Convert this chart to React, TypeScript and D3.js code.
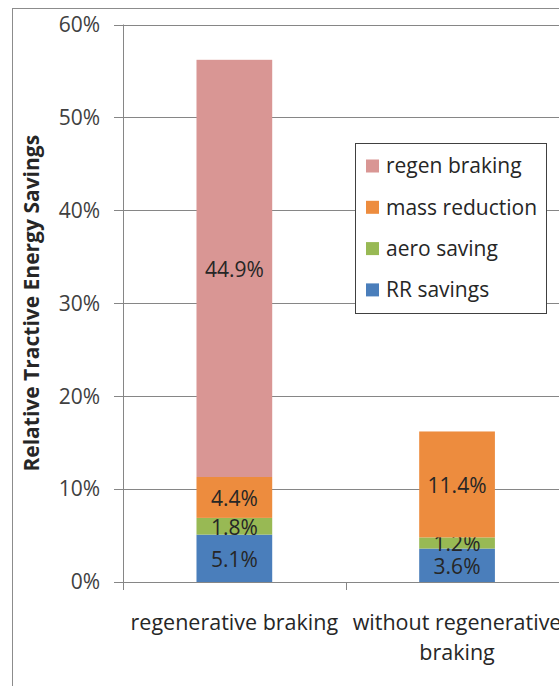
import React from "react";
import * as d3 from "d3";

const categories = ["regenerative braking", "without regenerative braking"];
const categoryLines = [["regenerative braking"], ["without regenerative", "braking"]];
const seriesNames = ["RR savings", "aero saving", "mass reduction", "regen braking"];
const rrSavings = [5.1, 3.6];
const aeroSaving = [1.8, 1.2];
const massReduction = [4.4, 11.4];
const regenBraking = [44.9, 0];
const seriesColors = ["#4A7EBB", "#98B954", "#ED8C3E", "#D99694"];
const yTicks = [0, 10, 20, 30, 40, 50, 60];

const W = 559;
const H = 686;
const FONT = "'Open Sans', sans-serif";

export default function App() {
  const y = d3.scaleLinear().domain([0, 60]).range([582, 24.5]);
  const x = d3.scaleBand<string>().domain(categories).range([123, 568.4]).padding(0);
  const barW = x.bandwidth() * 0.34;

  const rows = categories.map((c, i) => ({
    cat: c,
    "RR savings": rrSavings[i],
    "aero saving": aeroSaving[i],
    "mass reduction": massReduction[i],
    "regen braking": regenBraking[i],
  }));
  const stack = d3.stack<any>().keys(seriesNames);
  const layers = stack(rows);

  const legendOrder = [3, 2, 1, 0];

  return (
    <svg
      width={W}
      height={H}
      style={{ position: "absolute", left: 0, top: 0, background: "#fff" }}
      fontFamily={FONT}
    >
      <rect x={12.5} y={8.5} width={700} height={800} fill="#fff" stroke="#8c8c8c" strokeWidth={1} />
      {yTicks.map((t) => (
        <line key={t} x1={114} x2={W + 10} y1={Math.round(y(t)) + 0.5} y2={Math.round(y(t)) + 0.5} stroke="#868686" strokeWidth={1} />
      ))}
      {yTicks.map((t) => (
        <text key={"l" + t} x={100} y={y(t)} dy="0.35em" textAnchor="end" fontSize={21} fill="#404040">
          {t + "%"}
        </text>
      ))}
      <line x1={123.5} x2={123.5} y1={y(60)} y2={590} stroke="#868686" />
      {categories.map((c) => (
        <line key={"t" + c} x1={Math.round(x(c)!) + 0.5} x2={Math.round(x(c)!) + 0.5} y1={582} y2={590} stroke="#868686" />
      ))}
      {layers.map((layer, si) =>
        layer.map((d, ci) => {
          const v = d[1] - d[0];
          if (v <= 0) return null;
          const cx = x(categories[ci])! + x.bandwidth() / 2;
          return (
            <g key={si + "-" + ci}>
              <rect x={cx - barW / 2} y={y(d[1])} width={barW} height={y(d[0]) - y(d[1])} fill={seriesColors[si]} />
              <text x={cx} y={(y(d[0]) + y(d[1])) / 2 + 1} dy="0.35em" textAnchor="middle" fontSize={21} fill="#262626">
                {v.toFixed(1) + "%"}
              </text>
            </g>
          );
        })
      )}
      {categories.map((c, i) =>
        categoryLines[i].map((ln, li) => (
          <text key={c + li} x={x(c)! + x.bandwidth() / 2} y={622 + li * 30} dy="0.35em" textAnchor="middle" fontSize={21.5} fill="#262626">
            {ln}
          </text>
        ))
      )}
      <text transform={`translate(39,${(y(0) + y(60)) / 2}) rotate(-90)`} textAnchor="middle" fontSize={21} fontWeight="bold" fill="#262626">
        Relative Tractive Energy Savings
      </text>
      <rect x={355.5} y={143.5} width={191} height={170} fill="#fff" stroke="#404040" />
      {legendOrder.map((si, k) => (
        <g key={"lg" + si} transform={`translate(366,${166 + k * 41.3})`}>
          <rect x={0} y={-6.5} width={13} height={13} fill={seriesColors[si]} />
          <text x={20} y={0} dy="0.35em" fontSize={21} fill="#262626">
            {seriesNames[si]}
          </text>
        </g>
      ))}
    </svg>
  );
}
